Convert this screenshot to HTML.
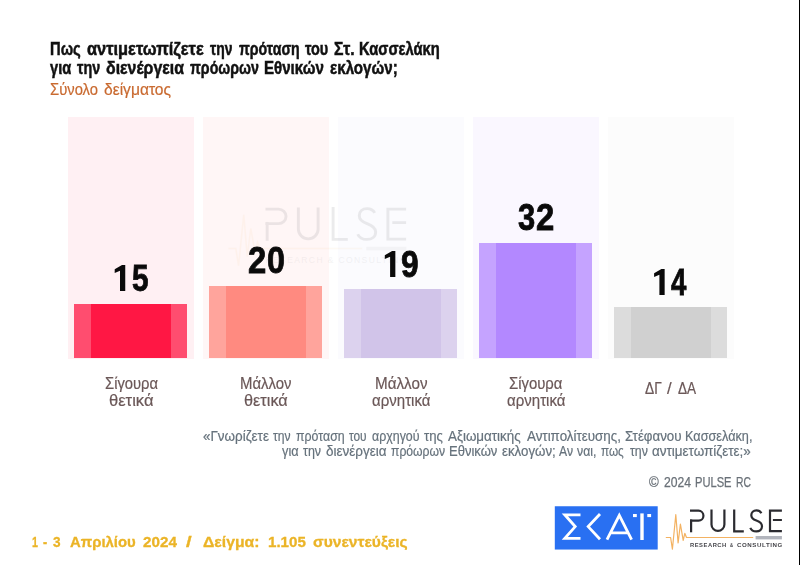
<!DOCTYPE html>
<html lang="el"><head><meta charset="utf-8"><title>Pulse RC</title>
<style>
html,body{margin:0;padding:0;background:#fff;}
body{width:800px;height:565px;position:relative;overflow:hidden;font-family:"Liberation Sans",sans-serif;}
.t{position:absolute;white-space:pre;line-height:1;display:block;transform-origin:0 0;}
.p{position:absolute;}
svg{position:absolute;left:0;top:0;}
</style></head><body>
<div class="p" style="left:67.5px;top:117.0px;width:126.2px;height:241.6px;background:#fff0f3"></div>
<div class="p" style="left:202.5px;top:117.0px;width:126.2px;height:241.6px;background:#fff6f6"></div>
<div class="p" style="left:337.5px;top:117.0px;width:126.2px;height:241.6px;background:#fbfbfe"></div>
<div class="p" style="left:472.5px;top:117.0px;width:126.2px;height:241.6px;background:#faf7ff"></div>
<div class="p" style="left:607.5px;top:117.0px;width:126.2px;height:241.6px;background:#fcfcfc"></div>
<svg width="800" height="565" viewBox="0 0 800 565" style="opacity:0.085">
<g transform="translate(266.4 208) scale(1.53 1.47) translate(-690.6 -510)">
<g fill="none">
<path stroke="#f0a63a" stroke-opacity="0.6" stroke-width="1" d="M665.8 537.5H670.6L672.4 549.2L675.8 514.7L678.1 543L680.4 524L683.2 540.4L684.8 533.3L686.5 537.5H753.2"/>
<g stroke="#2b2b30" stroke-width="1.9">
<path d="M690 510.7H698.5A4.95 4.95 0 0 1 698.5 520.6H690"/>
<path d="M691.1 519.5V532.3"/>
<path d="M711.5 509.6V524.5A6.45 6.45 0 0 0 724.4 524.5V509.6"/>
<path d="M734.2 509.4V531.3H743.8"/>
<path d="M761.4 513.3C760.4 511.4 758.6 510.4 756.4 510.4C753.4 510.4 751.3 512.4 751.3 515.2C751.3 518.2 753.6 519.5 756.4 520.6C759.6 521.8 762 523.2 762 526.3C762 529.5 759.6 531.4 756.3 531.4C753.5 531.4 751.3 530.2 750.3 527.8"/>
<path d="M781.9 510.7H770V531.2H781.9M772.9 520H781.9"/>
</g>
<rect x="755.9" y="536.4" width="26.2" height="2.4" fill="#a9a9ae"/>
</g>
<text x="690" y="547.2" font-family="Liberation Sans, sans-serif" font-size="5.6" font-weight="400" fill="#3a3a3f" fill-opacity="0.65" textLength="92" lengthAdjust="spacing">RESEARCH &amp; CONSULTING</text>
</g>
</svg>

<div class="p" style="left:74.0px;top:303.5px;width:113.0px;height:54.2px;background:#ff4d6f"></div>
<div class="p" style="left:91.0px;top:303.5px;width:80.0px;height:54.2px;background:#ff1744"></div>
<div class="p" style="left:209.0px;top:286.1px;width:113.0px;height:71.6px;background:#ffa49c"></div>
<div class="p" style="left:226.0px;top:286.1px;width:80.0px;height:71.6px;background:#ff8a80"></div>
<div class="p" style="left:344.0px;top:289.0px;width:113.0px;height:68.7px;background:#dcd2ee"></div>
<div class="p" style="left:361.0px;top:289.0px;width:80.0px;height:68.7px;background:#d1c4e9"></div>
<div class="p" style="left:479.0px;top:242.9px;width:113.0px;height:114.8px;background:#c5a3ff"></div>
<div class="p" style="left:496.0px;top:242.9px;width:80.0px;height:114.8px;background:#b388ff"></div>
<div class="p" style="left:614.0px;top:307.1px;width:113.0px;height:50.6px;background:#dcdcdc"></div>
<div class="p" style="left:631.0px;top:307.1px;width:80.0px;height:50.6px;background:#d0d0d0"></div>
<svg width="800" height="565" viewBox="0 0 800 565">
<g fill="none" stroke-linecap="butt" stroke-linejoin="miter">
<path stroke="#f3b262" stroke-width="1.2" stroke-linejoin="round" d="M665.8 537.5H670.6L672.4 549.2L675.8 514.7L678.1 543L680.4 524L683.2 540.4L684.8 533.3L686.5 537.5H753.2"/>
<g stroke="#2b2b30" stroke-width="2.2">
<path d="M690 510.7H698.5A4.95 4.95 0 0 1 698.5 520.6H690"/>
<path d="M691.1 519.5V532.3"/>
<path d="M711.5 509.6V524.5A6.45 6.45 0 0 0 724.4 524.5V509.6"/>
<path d="M734.2 509.4V531.3H743.8"/>
<path d="M761.4 513.3C760.4 511.4 758.6 510.4 756.4 510.4C753.4 510.4 751.3 512.4 751.3 515.2C751.3 518.2 753.6 519.5 756.4 520.6C759.6 521.8 762 523.2 762 526.3C762 529.5 759.6 531.4 756.3 531.4C753.5 531.4 751.3 530.2 750.3 527.8"/>
<path d="M781.9 510.7H770V531.2H781.9M772.9 520H781.9"/>
</g>
<rect x="755.6" y="536" width="26.3" height="3.4" fill="#b2b5bd" stroke="none"/>
</g>
<rect x="554.8" y="506.25" width="102.9" height="43.3" fill="#2970f2"/>
<g fill="none" stroke="#fff" stroke-width="2.8" stroke-linejoin="miter" stroke-miterlimit="6">
<path d="M580.5 514.8H564.8L575.2 526.6L564.8 538.4H580.5"/>
<path d="M600 514L588.2 526.6L600 539.2"/>
<path d="M607 539.6L619.3 515.4L631.6 539.6M611.4 532.9H627.2"/>
<path d="M642 513.4V540" stroke-width="3.4"/>
</g>
<rect x="633" y="514" width="3.8" height="3.1" fill="#fff"/>
<rect x="647.3" y="514" width="3.8" height="3.1" fill="#fff"/>
</svg>

<div style="position:absolute;left:0;top:0;width:800px;height:565px;will-change:transform">
<span class="t" style="left:50.17px;top:41.00px;font-size:17.80px;font-weight:700;color:#111111;transform:scaleX(0.8296);-webkit-text-stroke:0.50px #111111;">Πως</span>
<span class="t" style="left:86.95px;top:41.00px;font-size:17.80px;font-weight:700;color:#111111;transform:scaleX(0.9221);-webkit-text-stroke:0.50px #111111;">αντιμετωπίζετε</span>
<span class="t" style="left:210.25px;top:41.00px;font-size:17.80px;font-weight:700;color:#111111;transform:scaleX(0.7813);-webkit-text-stroke:0.50px #111111;">την</span>
<span class="t" style="left:238.95px;top:41.00px;font-size:17.80px;font-weight:700;color:#111111;transform:scaleX(0.7952);-webkit-text-stroke:0.50px #111111;">πρόταση</span>
<span class="t" style="left:304.75px;top:41.00px;font-size:17.80px;font-weight:700;color:#111111;transform:scaleX(0.8127);-webkit-text-stroke:0.50px #111111;">του</span>
<span class="t" style="left:334.25px;top:41.00px;font-size:17.80px;font-weight:700;color:#111111;transform:scaleX(0.8856);-webkit-text-stroke:0.50px #111111;">Στ.</span>
<span class="t" style="left:358.92px;top:41.00px;font-size:17.80px;font-weight:700;color:#111111;transform:scaleX(0.8286);-webkit-text-stroke:0.50px #111111;">Κασσελάκη</span>
<span class="t" style="left:50.25px;top:60.00px;font-size:17.80px;font-weight:700;color:#111111;transform:scaleX(0.8227);-webkit-text-stroke:0.50px #111111;">για</span>
<span class="t" style="left:77.00px;top:60.00px;font-size:17.80px;font-weight:700;color:#111111;transform:scaleX(0.8074);-webkit-text-stroke:0.50px #111111;">την</span>
<span class="t" style="left:106.25px;top:60.00px;font-size:17.80px;font-weight:700;color:#111111;transform:scaleX(0.8930);-webkit-text-stroke:0.50px #111111;">διενέργεια</span>
<span class="t" style="left:189.50px;top:60.00px;font-size:17.80px;font-weight:700;color:#111111;transform:scaleX(0.7975);-webkit-text-stroke:0.50px #111111;">πρόωρων</span>
<span class="t" style="left:263.90px;top:60.00px;font-size:17.80px;font-weight:700;color:#111111;transform:scaleX(0.8472);-webkit-text-stroke:0.50px #111111;">Εθνικών</span>
<span class="t" style="left:330.00px;top:60.00px;font-size:17.80px;font-weight:700;color:#111111;transform:scaleX(0.8515);-webkit-text-stroke:0.50px #111111;">εκλογών;</span>
<span class="t" style="left:50.35px;top:82.00px;font-size:16.60px;font-weight:400;color:#c96a30;transform:scaleX(0.8920);-webkit-text-stroke:0.20px #c96a30;">Σύνολο</span>
<span class="t" style="left:104.35px;top:82.00px;font-size:16.60px;font-weight:400;color:#c96a30;transform:scaleX(0.9401);-webkit-text-stroke:0.20px #c96a30;">δείγματος</span>
<span class="t" style="left:131.98px;top:261.00px;font-size:36.50px;font-weight:700;color:#0a0a0a;transform-origin:0 30.000px;transform:scale(0.8158,1.0082);-webkit-text-stroke:0.80px #0a0a0a;">5</span>
<span class="t" style="left:248.30px;top:243.00px;font-size:36.50px;font-weight:700;color:#0a0a0a;transform-origin:0 30.000px;transform:scale(0.9000,1.0082);-webkit-text-stroke:0.80px #0a0a0a;">2</span>
<span class="t" style="left:267.02px;top:243.00px;font-size:36.50px;font-weight:700;color:#0a0a0a;transform-origin:0 30.000px;transform:scale(0.8833,1.0082);-webkit-text-stroke:0.80px #0a0a0a;">0</span>
<span class="t" style="left:401.33px;top:247.00px;font-size:36.50px;font-weight:700;color:#0a0a0a;transform-origin:0 30.000px;transform:scale(0.8667,1.0082);-webkit-text-stroke:0.80px #0a0a0a;">9</span>
<span class="t" style="left:518.40px;top:200.00px;font-size:36.50px;font-weight:700;color:#0a0a0a;transform-origin:0 30.000px;transform:scale(0.8474,1.0082);-webkit-text-stroke:0.80px #0a0a0a;">3</span>
<span class="t" style="left:536.20px;top:200.00px;font-size:36.50px;font-weight:700;color:#0a0a0a;transform-origin:0 30.000px;transform:scale(0.9000,1.0082);-webkit-text-stroke:0.80px #0a0a0a;">2</span>
<span class="t" style="left:671.20px;top:265.00px;font-size:36.50px;font-weight:700;color:#0a0a0a;transform-origin:0 30.000px;transform:scale(0.7571,1.0082);-webkit-text-stroke:0.80px #0a0a0a;">4</span>
<span class="t" style="left:105.00px;top:375.00px;font-size:16.40px;font-weight:400;color:#6b5858;transform:scaleX(0.9020);-webkit-text-stroke:0.20px #6b5858;">Σίγουρα</span>
<span class="t" style="left:109.10px;top:392.00px;font-size:16.40px;font-weight:400;color:#6b5858;transform:scaleX(1.0119);-webkit-text-stroke:0.20px #6b5858;">θετικά</span>
<span class="t" style="left:239.79px;top:375.00px;font-size:16.40px;font-weight:400;color:#6b5858;transform:scaleX(0.9109);-webkit-text-stroke:0.20px #6b5858;">Μάλλον</span>
<span class="t" style="left:244.10px;top:392.00px;font-size:16.40px;font-weight:400;color:#6b5858;transform:scaleX(0.9946);-webkit-text-stroke:0.20px #6b5858;">θετικά</span>
<span class="t" style="left:374.57px;top:375.00px;font-size:16.40px;font-weight:400;color:#6b5858;transform:scaleX(0.9280);-webkit-text-stroke:0.20px #6b5858;">Μάλλον</span>
<span class="t" style="left:372.20px;top:392.00px;font-size:16.40px;font-weight:400;color:#6b5858;transform:scaleX(0.9174);-webkit-text-stroke:0.20px #6b5858;">αρνητικά</span>
<span class="t" style="left:509.30px;top:375.00px;font-size:16.40px;font-weight:400;color:#6b5858;transform:scaleX(0.9080);-webkit-text-stroke:0.20px #6b5858;">Σίγουρα</span>
<span class="t" style="left:507.20px;top:392.00px;font-size:16.40px;font-weight:400;color:#6b5858;transform:scaleX(0.9174);-webkit-text-stroke:0.20px #6b5858;">αρνητικά</span>
<span class="t" style="left:645.10px;top:380.00px;font-size:16.40px;font-weight:400;color:#6b5858;transform:scaleX(0.8372);-webkit-text-stroke:0.20px #6b5858;">ΔΓ</span>
<span class="t" style="left:667.20px;top:380.00px;font-size:16.40px;font-weight:400;color:#6b5858;transform:scaleX(1.0200);-webkit-text-stroke:0.20px #6b5858;">/</span>
<span class="t" style="left:678.10px;top:380.00px;font-size:16.40px;font-weight:400;color:#6b5858;transform:scaleX(0.8292);-webkit-text-stroke:0.20px #6b5858;">ΔΑ</span>
<span class="t" style="left:202.80px;top:430.00px;font-size:13.90px;font-weight:400;color:#66727c;transform:scaleX(0.9668);-webkit-text-stroke:0.20px #66727c;">«Γνωρίζετε</span>
<span class="t" style="left:273.20px;top:430.00px;font-size:13.90px;font-weight:400;color:#66727c;transform:scaleX(0.8708);-webkit-text-stroke:0.20px #66727c;">την</span>
<span class="t" style="left:296.10px;top:430.00px;font-size:13.90px;font-weight:400;color:#66727c;transform:scaleX(0.8904);-webkit-text-stroke:0.20px #66727c;">πρόταση</span>
<span class="t" style="left:349.40px;top:430.00px;font-size:13.90px;font-weight:400;color:#66727c;transform:scaleX(0.8543);-webkit-text-stroke:0.20px #66727c;">του</span>
<span class="t" style="left:372.40px;top:430.00px;font-size:13.90px;font-weight:400;color:#66727c;transform:scaleX(0.8932);-webkit-text-stroke:0.20px #66727c;">αρχηγού</span>
<span class="t" style="left:424.40px;top:430.00px;font-size:13.90px;font-weight:400;color:#66727c;transform:scaleX(0.9450);-webkit-text-stroke:0.20px #66727c;">της</span>
<span class="t" style="left:448.20px;top:430.00px;font-size:13.90px;font-weight:400;color:#66727c;transform:scaleX(0.9644);-webkit-text-stroke:0.20px #66727c;">Αξιωματικής</span>
<span class="t" style="left:526.85px;top:430.00px;font-size:13.90px;font-weight:400;color:#66727c;transform:scaleX(0.9625);-webkit-text-stroke:0.20px #66727c;">Αντιπολίτευσης,</span>
<span class="t" style="left:624.90px;top:430.00px;font-size:13.90px;font-weight:400;color:#66727c;transform:scaleX(0.9604);-webkit-text-stroke:0.20px #66727c;">Στέφανου</span>
<span class="t" style="left:684.69px;top:430.00px;font-size:13.90px;font-weight:400;color:#66727c;transform:scaleX(0.9138);-webkit-text-stroke:0.20px #66727c;">Κασσελάκη,</span>
<span class="t" style="left:282.30px;top:445.00px;font-size:13.90px;font-weight:400;color:#66727c;transform:scaleX(0.9206);-webkit-text-stroke:0.20px #66727c;">για</span>
<span class="t" style="left:303.10px;top:445.00px;font-size:13.90px;font-weight:400;color:#66727c;transform:scaleX(0.8955);-webkit-text-stroke:0.20px #66727c;">την</span>
<span class="t" style="left:325.90px;top:445.00px;font-size:13.90px;font-weight:400;color:#66727c;transform:scaleX(0.9715);-webkit-text-stroke:0.20px #66727c;">διενέργεια</span>
<span class="t" style="left:390.50px;top:445.00px;font-size:13.90px;font-weight:400;color:#66727c;transform:scaleX(0.8770);-webkit-text-stroke:0.20px #66727c;">πρόωρων</span>
<span class="t" style="left:449.16px;top:445.00px;font-size:13.90px;font-weight:400;color:#66727c;transform:scaleX(0.9379);-webkit-text-stroke:0.20px #66727c;">Εθνικών</span>
<span class="t" style="left:502.10px;top:445.00px;font-size:13.90px;font-weight:400;color:#66727c;transform:scaleX(0.9560);-webkit-text-stroke:0.20px #66727c;">εκλογών;</span>
<span class="t" style="left:559.10px;top:445.00px;font-size:13.90px;font-weight:400;color:#66727c;transform:scaleX(0.8742);-webkit-text-stroke:0.20px #66727c;">Αν</span>
<span class="t" style="left:576.90px;top:445.00px;font-size:13.90px;font-weight:400;color:#66727c;transform:scaleX(0.8831);-webkit-text-stroke:0.20px #66727c;">ναι,</span>
<span class="t" style="left:601.40px;top:445.00px;font-size:13.90px;font-weight:400;color:#66727c;transform:scaleX(0.8446);-webkit-text-stroke:0.20px #66727c;">πως</span>
<span class="t" style="left:629.70px;top:445.00px;font-size:13.90px;font-weight:400;color:#66727c;transform:scaleX(0.8856);-webkit-text-stroke:0.20px #66727c;">την</span>
<span class="t" style="left:652.30px;top:445.00px;font-size:13.90px;font-weight:400;color:#66727c;transform:scaleX(0.9686);-webkit-text-stroke:0.20px #66727c;">αντιμετωπίζετε;»</span>
<span class="t" style="left:649.02px;top:475.00px;font-size:14.20px;font-weight:400;color:#6a7178;transform:scaleX(0.9318);-webkit-text-stroke:0.25px #6a7178;">©</span>
<span class="t" style="left:663.62px;top:475.00px;font-size:14.20px;font-weight:400;color:#6a7178;transform:scaleX(0.8572);-webkit-text-stroke:0.25px #6a7178;">2024</span>
<span class="t" style="left:695.09px;top:475.00px;font-size:14.20px;font-weight:400;color:#6a7178;transform:scaleX(0.7856);-webkit-text-stroke:0.25px #6a7178;">PULSE</span>
<span class="t" style="left:736.40px;top:475.00px;font-size:14.20px;font-weight:400;color:#6a7178;transform:scaleX(0.7274);-webkit-text-stroke:0.25px #6a7178;">RC</span>
<span class="t" style="left:31.65px;top:534.00px;font-size:15.20px;font-weight:700;color:#ebb427;transform:scaleX(0.7000);-webkit-text-stroke:0.30px #ebb427;">1</span>
<span class="t" style="left:43.45px;top:534.00px;font-size:15.20px;font-weight:700;color:#ebb427;transform:scaleX(0.8200);-webkit-text-stroke:0.30px #ebb427;">-</span>
<span class="t" style="left:53.05px;top:534.00px;font-size:15.20px;font-weight:700;color:#ebb427;transform:scaleX(0.9000);-webkit-text-stroke:0.30px #ebb427;">3</span>
<span class="t" style="left:69.75px;top:534.00px;font-size:15.20px;font-weight:700;color:#ebb427;transform:scaleX(0.9813);-webkit-text-stroke:0.30px #ebb427;">Απριλίου</span>
<span class="t" style="left:142.55px;top:534.00px;font-size:15.20px;font-weight:700;color:#ebb427;transform:scaleX(1.0018);-webkit-text-stroke:0.30px #ebb427;">2024</span>
<span class="t" style="left:186.45px;top:534.00px;font-size:15.20px;font-weight:700;color:#ebb427;transform:scaleX(1.3400);-webkit-text-stroke:0.30px #ebb427;">/</span>
<span class="t" style="left:202.65px;top:534.00px;font-size:15.20px;font-weight:700;color:#ebb427;transform:scaleX(1.0371);-webkit-text-stroke:0.30px #ebb427;">Δείγμα:</span>
<span class="t" style="left:268.05px;top:534.00px;font-size:15.20px;font-weight:700;color:#ebb427;transform:scaleX(0.9959);-webkit-text-stroke:0.30px #ebb427;">1.105</span>
<span class="t" style="left:313.25px;top:534.00px;font-size:15.20px;font-weight:700;color:#ebb427;transform:scaleX(1.0266);-webkit-text-stroke:0.30px #ebb427;">συνεντεύξεις</span>
<span class="t" style="left:690.20px;top:543.00px;font-size:5.50px;font-weight:700;color:#45454a;transform:scaleX(1.0554);letter-spacing:0.5px;">RESEARCH</span>
<span class="t" style="left:730.20px;top:543.00px;font-size:5.50px;font-weight:700;color:#45454a;transform:scaleX(0.7750);letter-spacing:0.5px;">&amp;</span>
<span class="t" style="left:736.90px;top:543.00px;font-size:5.50px;font-weight:700;color:#45454a;transform:scaleX(1.1201);letter-spacing:0.5px;">CONSULTING</span>
<svg width="800" height="565" viewBox="0 0 800 565"><polygon points="125.25,264.90 122.00,264.90 114.70,269.30 114.70,273.10 120.00,270.80 120.00,291.00 125.25,291.00" fill="#0a0a0a"/></svg>
<svg width="800" height="565" viewBox="0 0 800 565"><polygon points="395.35,250.90 392.10,250.90 384.80,255.30 384.80,259.10 390.10,256.80 390.10,277.00 395.35,277.00" fill="#0a0a0a"/></svg>
<svg width="800" height="565" viewBox="0 0 800 565"><polygon points="664.65,268.90 661.40,268.90 654.10,273.30 654.10,277.10 659.40,274.80 659.40,295.00 664.65,295.00" fill="#0a0a0a"/></svg>
</div>
<div class="p" style="left:798.6px;top:0;width:1.4px;height:565px;background:#000"></div>
</body></html>
